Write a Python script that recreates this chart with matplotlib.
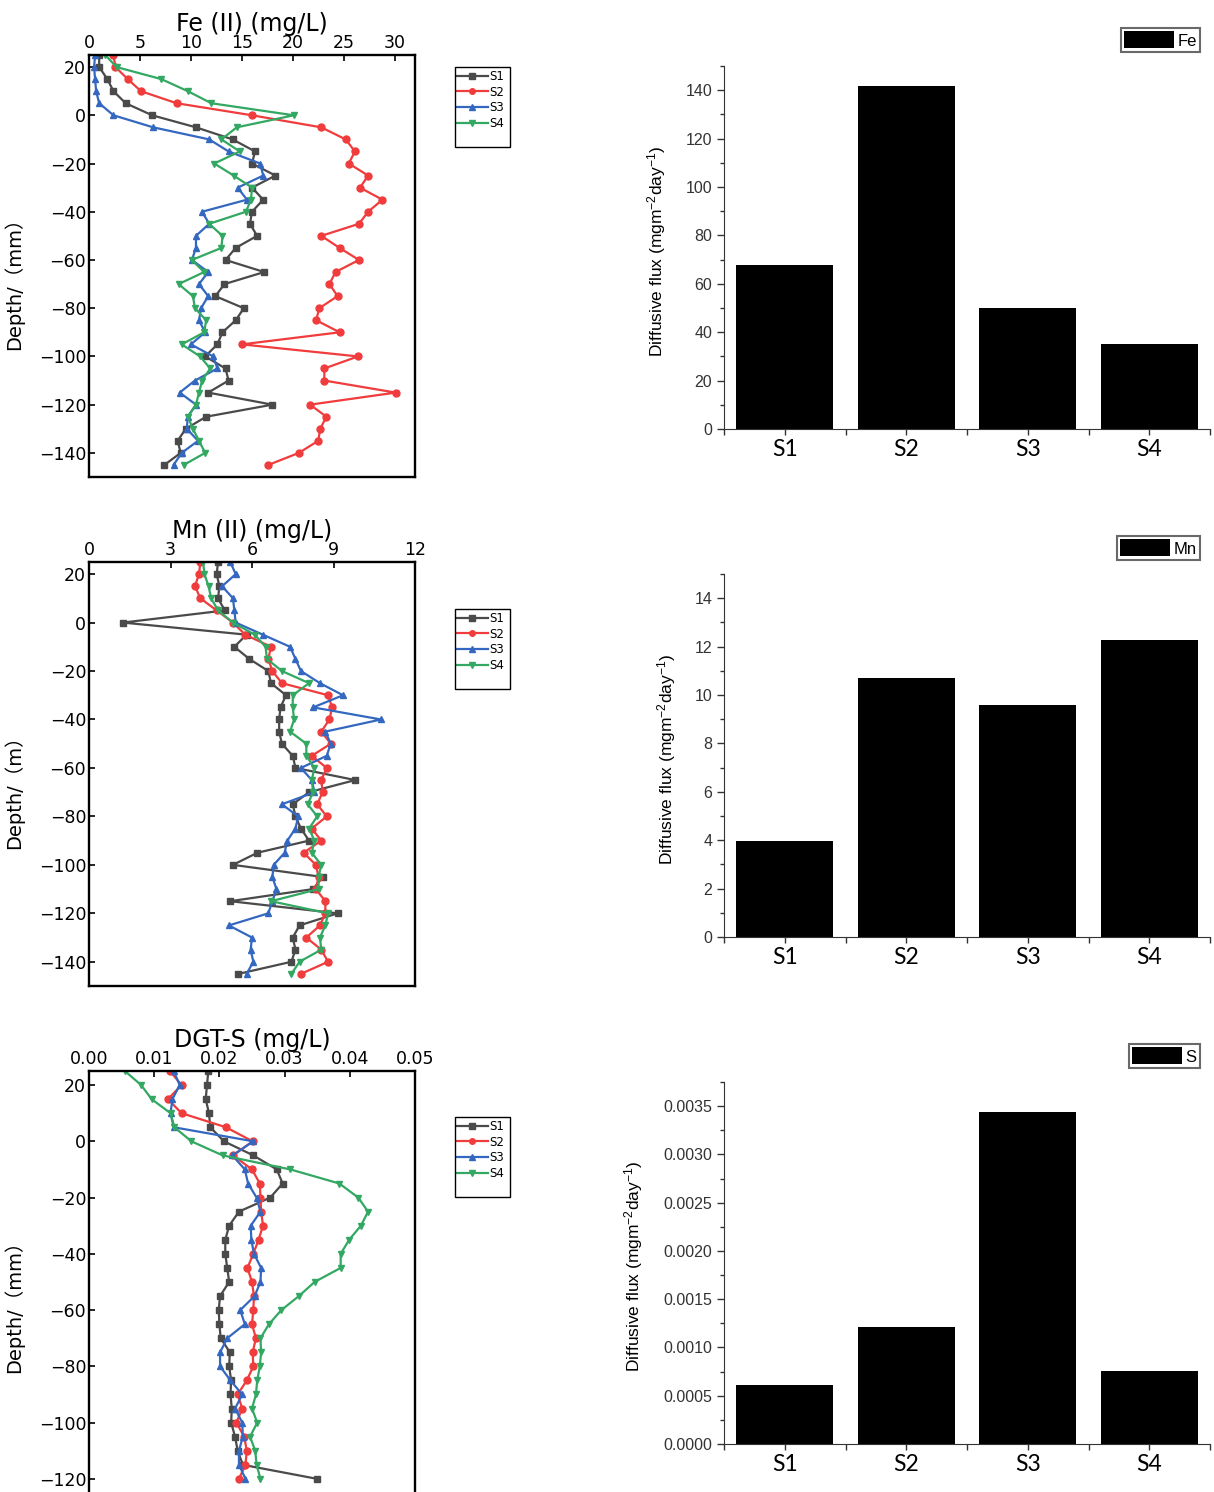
import matplotlib
matplotlib.use("Agg")
import matplotlib.pyplot as plt
from matplotlib.patches import Rectangle
from matplotlib.ticker import MultipleLocator, FormatStrFormatter, FixedLocator

plt.rcParams['font.family'] = ['DejaVu Sans', 'Noto Sans CJK SC']
plt.rcParams['mathtext.default'] = 'regular'

# ---- data ----
sites = ['S1', 'S2', 'S3', 'S4']

depth_fe = [25, 20, 15, 10, 5, 0, -5, -10, -15, -20, -25, -30, -35, -40, -45, -50, -55,
            -60, -65, -70, -75, -80, -85, -90, -95, -100, -105, -110, -115, -120, -125,
            -130, -135, -140, -145]
fe_s1 = [1.0, 1.0, 1.8, 2.4, 3.6, 6.2, 10.5, 14.1, 16.3, 16.0, 18.3, 16.0, 17.1, 16.0, 15.8,
         16.5, 14.4, 13.4, 17.2, 13.3, 12.4, 15.2, 14.4, 13.1, 12.6, 11.4, 13.4, 13.7, 11.7,
         18.0, 11.5, 9.5, 8.7, 9.0, 7.4]
fe_s2 = [2.4, 2.6, 3.8, 5.1, 8.6, 16.0, 22.8, 25.2, 26.1, 25.5, 27.4, 26.6, 28.8, 27.4, 26.5,
         22.8, 24.6, 26.5, 24.2, 23.6, 24.4, 22.6, 22.3, 24.6, 15.0, 26.4, 23.1, 23.1, 30.1,
         21.7, 23.3, 22.7, 22.5, 20.6, 17.6]
fe_s3 = [0.6, 0.5, 0.6, 0.7, 1.0, 2.4, 6.3, 11.8, 13.7, 16.8, 17.1, 14.6, 15.5, 11.1, 11.8,
         10.5, 10.5, 10.1, 11.7, 10.8, 11.7, 11.0, 10.8, 11.4, 10.0, 12.2, 12.6, 10.4, 8.9,
         10.5, 9.7, 9.6, 10.7, 9.1, 8.3]
fe_s4 = [1.6, 2.7, 7.1, 9.7, 12.0, 20.1, 14.5, 13.0, 14.8, 12.3, 14.2, 16.0, 15.9, 15.4, 11.8,
         13.1, 13.0, 10.1, 11.3, 8.8, 10.2, 10.4, 11.5, 11.3, 9.1, 10.9, 11.9, 11.1, 10.8,
         10.5, 9.7, 10.2, 10.8, 11.4, 9.3]

depth_mn = depth_fe
mn_s1 = [4.75, 4.7, 4.8, 4.75, 5.0, 1.25, 5.8, 5.35, 5.9, 6.6, 6.7, 7.25, 7.05, 7.0, 7.0, 7.1,
         7.5, 7.6, 9.8, 8.1, 7.5, 7.6, 7.8, 8.1, 6.2, 5.3, 8.6, 8.25, 5.2, 9.15, 7.75, 7.5,
         7.6, 7.45, 5.5]
mn_s2 = [4.1, 4.05, 3.9, 4.1, 4.7, 5.3, 5.75, 6.7, 6.6, 6.75, 7.1, 8.8, 8.95, 8.85, 8.55, 8.9,
         8.2, 8.75, 8.55, 8.6, 8.4, 8.75, 8.2, 8.55, 7.9, 8.35, 8.45, 8.35, 8.7, 8.7, 8.5,
         8.0, 8.55, 8.8, 7.8]
mn_s3 = [5.2, 5.4, 4.9, 5.3, 5.35, 5.4, 6.4, 7.4, 7.6, 7.8, 8.5, 9.35, 8.25, 10.75, 8.7, 8.9,
         8.75, 7.8, 8.2, 8.3, 7.1, 7.7, 7.6, 7.3, 7.2, 6.8, 6.75, 6.9, 6.75, 6.6, 5.15, 6.0,
         5.95, 6.05, 5.8]
mn_s4 = [4.2, 4.25, 4.4, 4.5, 4.75, 5.3, 6.1, 6.5, 6.55, 7.1, 8.1, 7.5, 7.5, 7.55, 7.4, 8.0,
         8.0, 8.3, 8.2, 8.25, 8.05, 8.4, 8.1, 8.3, 8.2, 8.55, 8.45, 8.45, 6.7, 8.8, 8.7, 8.5,
         8.55, 7.75, 7.45]

depth_s = [25, 20, 15, 10, 5, 0, -5, -10, -15, -20, -25, -30, -35, -40, -45, -50, -55,
           -60, -65, -70, -75, -80, -85, -90, -95, -100, -105, -110, -115, -120]
s_s1 = [0.0183, 0.0181, 0.0179, 0.0184, 0.0186, 0.0207, 0.0252, 0.0288, 0.0297, 0.0278,
        0.0230, 0.0215, 0.0209, 0.0209, 0.0212, 0.0215, 0.0201, 0.0199, 0.0200, 0.0202,
        0.0216, 0.0215, 0.0218, 0.0217, 0.0219, 0.0218, 0.0224, 0.0228, 0.0236, 0.0350]
s_s2 = [0.0124, 0.0142, 0.0121, 0.0142, 0.0210, 0.0251, 0.0221, 0.0250, 0.0262, 0.0263,
        0.0264, 0.0267, 0.0260, 0.0252, 0.0243, 0.0250, 0.0253, 0.0252, 0.0250, 0.0256,
        0.0251, 0.0252, 0.0242, 0.0228, 0.0235, 0.0226, 0.0238, 0.0242, 0.0240, 0.0230]
s_s3 = [0.0130, 0.0139, 0.0128, 0.0125, 0.0130, 0.0252, 0.0220, 0.0239, 0.0244, 0.0257,
        0.0263, 0.0248, 0.0249, 0.0253, 0.0264, 0.0263, 0.0254, 0.0232, 0.0239, 0.0212,
        0.0201, 0.0201, 0.0217, 0.0235, 0.0224, 0.0235, 0.0236, 0.0230, 0.0230, 0.0240]
s_s4 = [0.0055, 0.0080, 0.0096, 0.0125, 0.0131, 0.0157, 0.0205, 0.0309, 0.0384, 0.0413,
        0.0428, 0.0417, 0.0399, 0.0386, 0.0386, 0.0346, 0.0322, 0.0295, 0.0276, 0.0263,
        0.0264, 0.0262, 0.0258, 0.0256, 0.0250, 0.0258, 0.0247, 0.0255, 0.0257, 0.0263]

fe_flux = [67.9, 141.8, 50.0, 35.1]
mn_flux = [3.95, 10.69, 9.59, 12.27]
s_flux = [0.00061, 0.00121, 0.00344, 0.00076]

colors = ['#4a4a4a', '#f03c3c', '#3468c0', '#33a862']
markers = ['s', 'o', '^', 'v']

W, H = 1214, 1492
fig = plt.figure(figsize=(W / 100, H / 100), dpi=100)


def add_ax(l, t, r, b):
    return fig.add_axes([l / W, 1 - b / H, (r - l) / W, (b - t) / H])


def profile(t, b, depth, series, xlim, xstep, xfmt, ylim, yticks, title, ylab, box_top):
    ax = add_ax(89, t, 415, b)
    lines = []
    for vals, c, m, lab in zip(series, colors, markers, sites):
        ln, = ax.plot(vals, depth, color=c, marker=m, markersize=5, lw=1.6, label=lab)
        lines.append(ln)
    ax.set_xlim(*xlim)
    ax.set_ylim(*ylim)
    ax.xaxis.tick_top()
    ax.xaxis.set_label_position('top')
    ax.xaxis.set_major_locator(MultipleLocator(xstep))
    ax.xaxis.set_major_formatter(FormatStrFormatter(xfmt))
    ax.yaxis.set_major_locator(FixedLocator(yticks))
    ax.tick_params(direction='in', length=4, width=1.2, labelsize=12.5, pad=2,
                   top=True, bottom=False, left=True, right=False)
    for s in ax.spines.values():
        s.set_linewidth(1.7)
    ax.set_xlabel(title, fontsize=17, labelpad=2)
    ax.set_ylabel(ylab, fontsize=14)
    ax.yaxis.set_label_coords(-0.2, 0.47)
    ax.legend(lines, sites, loc='upper left', bbox_to_anchor=(457 / W, 1 - (box_top + 3) / H),
              bbox_transform=fig.transFigure, frameon=False, fontsize=8.5, handlelength=2.6,
              handletextpad=0.15, labelspacing=0.22, borderpad=0, borderaxespad=0,
              markerscale=0.8)
    fig.add_artist(Rectangle((455 / W, 1 - (box_top + 80) / H), 55 / W, 80 / H,
                             transform=fig.transFigure, fill=False, lw=1.0, ec='black'))
    return ax


profile(55, 477, depth_fe, [fe_s1, fe_s2, fe_s3, fe_s4], (0, 32), 5, '%d', (-150, 25),
        [-140, -120, -100, -80, -60, -40, -20, 0, 20], 'Fe (II) (mg/L)', 'Depth/（mm）', 67)
profile(562, 986, depth_mn, [mn_s1, mn_s2, mn_s3, mn_s4], (0, 12), 3, '%d', (-150, 25),
        [-140, -120, -100, -80, -60, -40, -20, 0, 20], 'Mn (II) (mg/L)', 'Depth/（m）', 609)
profile(1071, 1507, depth_s, [s_s1, s_s2, s_s3, s_s4], (0, 0.05), 0.01, '%.2f', (-130, 25),
        [-120, -100, -80, -60, -40, -20, 0, 20], 'DGT-S (mg/L)', 'Depth/（mm）', 1117)


def flux_bar(t, b, vals, name, ymax, ystep, yfmt, labx, legend_top):
    ax = add_ax(724, t, 1210, b)
    ax.bar([1, 2, 3, 4], vals, width=0.8, color='black', label=name)
    ax.set_xlim(0.5, 4.5)
    ax.set_ylim(0, ymax)
    ax.set_xticks([1, 2, 3, 4])
    ax.set_xticklabels(sites, fontsize=16.5, family='Lato')
    ax.xaxis.set_minor_locator(FixedLocator([0.5, 1.5, 2.5, 3.5, 4.5]))
    ax.yaxis.set_major_locator(MultipleLocator(ystep))
    ax.yaxis.set_minor_locator(MultipleLocator(ystep / 2))
    ax.yaxis.set_major_formatter(FormatStrFormatter(yfmt))
    for lab in ax.get_yticklabels():
        lab.set_family('Liberation Sans')
    ax.tick_params(axis='y', which='major', direction='out', length=5, width=1, labelsize=11.5,
                   labelcolor='#333333', color='#333333')
    ax.tick_params(axis='y', which='minor', direction='out', length=3, width=1, color='#333333')
    ax.tick_params(axis='x', which='both', direction='out', length=4, width=1, color='#333333', pad=3)
    ax.spines['top'].set_visible(False)
    ax.spines['right'].set_visible(False)
    ax.spines['left'].set_color('#333333')
    ax.spines['bottom'].set_color('#333333')
    ax.set_ylabel('Diffusive flux (mgm$^{-2}$day$^{-1}$)', fontsize=12.5, family='Liberation Sans')
    ax.yaxis.set_label_coords(labx, 0.49)
    leg = ax.legend(loc='upper right', bbox_to_anchor=(1200 / W, 1 - legend_top / H),
                    bbox_transform=fig.transFigure, fancybox=False,
                    edgecolor='#444444', handlelength=3.0, handleheight=1.2,
                    handletextpad=0.2, borderpad=0.2, borderaxespad=0,
                    prop={'family': 'Liberation Sans', 'size': 12})
    leg.get_frame().set_linewidth(1.5)
    return ax


flux_bar(66, 429, fe_flux, 'Fe', 150, 20, '%d', -0.115, 28)
flux_bar(574, 937, mn_flux, 'Mn', 15, 2, '%d', -0.095, 536)
flux_bar(1082, 1444, s_flux, 'S', 0.00375, 0.0005, '%.4f', -0.163, 1044)

fig.savefig('out.png', dpi=100)
